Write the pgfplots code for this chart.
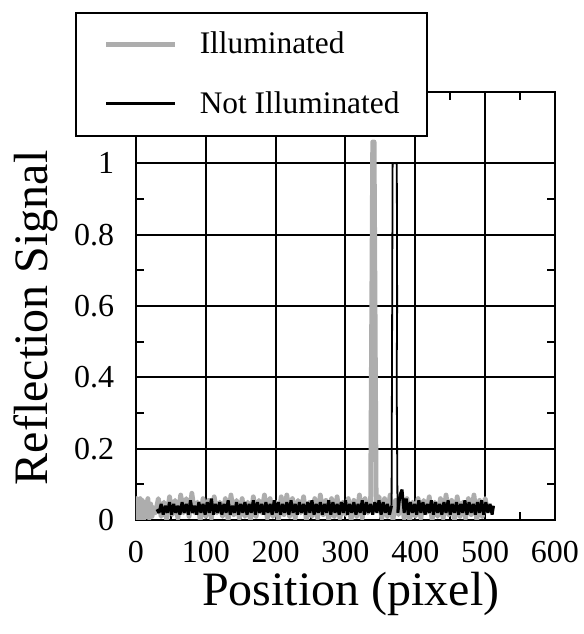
\documentclass[border=0pt]{standalone}
\usepackage{pgfplots}
\pgfplotsset{compat=1.18}
\usepackage{fontspec}
\setmainfont{Liberation Serif}
\definecolor{illum}{rgb}{0.68,0.68,0.68}
\begin{document}
\begin{tikzpicture}
\begin{axis}[
  scale only axis,
  width=209.5pt, height=214pt,
  xmin=0, xmax=600, ymin=0, ymax=1.2,
  xtick={0,100,...,600},
  ytick={0,0.2,0.4,0.6,0.8,1},
  extra y ticks={1.2}, extra y tick labels={},
  minor x tick num=1, minor y tick num=1,
  tick align=inside,
  major tick length=0pt, minor tick length=4pt,
  grid=major,
  major grid style={black, line width=1pt},
  axis line style={black, line width=1.2pt},
  every tick/.style={black, line width=1pt},
  /pgf/number format/assume math mode=true,
  tick label style={font=\fontsize{16}{18}\selectfont},
  xticklabel style={yshift=-7pt},
  yticklabel style={xshift=-7.4pt},
  xlabel={Position (pixel)},
  ylabel={Reflection Signal},
  label style={font=\fontsize{24}{28}\selectfont},
  xlabel style={at={(rel axis cs:0.513,-0.1729)}, anchor=center},
  ylabel style={at={(rel axis cs:-0.2387,0.472)}, anchor=center},
  legend image code/.code={\draw[#1] (0pt,0pt) -- (34.5pt,0pt);},
  legend cell align=left,
  legend style={at={(rel axis cs:-0.1456,1.1869)}, anchor=north west,
    draw=black, line width=1pt, fill=white,
    font=\fontsize{15.7}{18}\selectfont,
    nodes={inner sep=0pt},
    row sep=17.3pt, column sep=11pt,
    inner xsep=14pt, inner ysep=9.6pt},
]
\addplot[illum, line width=2.4pt, line join=round] coordinates {
(0,0.0) (1,0.06) (2,0.01) (3,0.05) (5,0.0) (6,0.06) (8,0.02) (9,0.055) (11,0.0) (13,0.05) (15,0.01) (17,0.06) (19,0.005) (21,0.045) (23,0.01) (25,0.035)
(28,0.02) (32,0.06) (36,0.01) (40,0.05) (44,0.00) (48,0.065) (52,0.015) (56,0.055) (60,0.005) (64,0.07) (68,0.02) (72,0.06) (76,0.01) (80,0.075) (84,0.02) (88,0.05) (92,0.0) (96,0.06) (100,0.01) (104,0.055) (108,0.005) (112,0.065) (116,0.02) (120,0.05) (124,0.01) (128,0.06) (132,0.0) (136,0.07) (140,0.015) (144,0.055) (148,0.005) (152,0.06) (156,0.01) (160,0.05) (164,0.0) (168,0.065) (172,0.01) (176,0.055) (180,0.02) (184,0.07) (188,0.005) (192,0.06) (196,0.01) (200,0.05) (204,0.0) (208,0.065) (212,0.015) (216,0.07) (220,0.01) (224,0.06) (228,0.005) (232,0.055) (236,0.02) (240,0.065) (244,0.0) (248,0.05) (252,0.01) (256,0.06) (260,0.005) (264,0.07) (268,0.015) (272,0.055) (276,0.0) (280,0.06) (284,0.01) (288,0.065) (292,0.005) (296,0.05) (300,0.015) (304,0.06) (308,0.0) (312,0.055) (316,0.01) (320,0.07) (324,0.005) (328,0.06) (332,0.02) (336,0.05) (339,1.06) (341,1.06) (344,0.04) (348,0.065) (352,0.005) (356,0.06) (360,0.01) (364,0.07) (368,0.0) (372,0.055) (376,0.015) (380,0.065) (384,0.005) (388,0.06) (392,0.0) (396,0.05) (400,0.01) (404,0.06) (408,0.005) (412,0.055) (416,0.02) (420,0.065) (424,0.0) (428,0.05) (432,0.01) (436,0.06) (440,0.005) (444,0.07) (448,0.015) (452,0.055) (456,0.0) (460,0.065) (464,0.01) (468,0.05) (472,0.005) (476,0.06) (480,0.015) (484,0.07) (488,0.0) (492,0.055) (496,0.01) (500,0.06) (504,0.02)
};
\addlegendentry{Illuminated}
\addplot[black, line width=1.5pt, line join=bevel] coordinates {
(30,0.03) (33,0.02) (36,0.045) (39,0.015) (42,0.04) (45,0.02) (48,0.05) (51,0.015) (54,0.045) (57,0.02) (60,0.04) (63,0.015) (66,0.05) (69,0.02) (72,0.045) (75,0.015) (78,0.055) (81,0.02) (84,0.04) (87,0.015) (90,0.05) (93,0.02) (96,0.045) (99,0.015) (102,0.05) (105,0.02) (108,0.06) (111,0.015) (114,0.045) (117,0.02) (120,0.05) (123,0.015) (126,0.045) (129,0.02) (132,0.055) (135,0.015) (138,0.04) (141,0.02) (144,0.05) (147,0.015) (150,0.045) (153,0.02) (156,0.05) (159,0.015) (162,0.045) (165,0.02) (168,0.055) (171,0.015) (174,0.05) (177,0.02) (180,0.045) (183,0.015) (186,0.05) (189,0.02) (192,0.045) (195,0.015) (198,0.055) (201,0.02) (204,0.05) (207,0.015) (210,0.045) (213,0.02) (216,0.05) (219,0.015) (222,0.055) (225,0.02) (228,0.045) (231,0.015) (234,0.05) (237,0.02) (240,0.045) (243,0.015) (246,0.05) (249,0.02) (252,0.055) (255,0.015) (258,0.045) (261,0.02) (264,0.05) (267,0.015) (270,0.045) (273,0.02) (276,0.055) (279,0.015) (282,0.05) (285,0.02) (288,0.045) (291,0.015) (294,0.05) (297,0.02) (300,0.055) (303,0.015) (306,0.045) (309,0.02) (312,0.05) (315,0.015) (318,0.045) (321,0.02) (324,0.055) (327,0.015) (330,0.05) (333,0.02) (336,0.045) (339,0.015) (342,0.05) (345,0.02) (348,0.055) (351,0.015) (354,0.05) (357,0.02) (360,0.045) (363,0.015) (366,0.04)
};
\addlegendentry{Not Illuminated}
\addplot[black, line width=0.9pt, forget plot] coordinates {
(366,0.04) (367.5,1.0) (373.5,1.0) (374,0.6) (373.3,0.4) (374.5,0.03) (375,0.02)
};
\addplot[black, line width=1.5pt, line join=bevel, forget plot] coordinates {
(375,0.02) (378,0.07) (381,0.085) (384,0.02) (387,0.06) (390,0.015) (393,0.05) (396,0.02) (399,0.045) (402,0.015) (405,0.055) (408,0.02) (411,0.05) (414,0.015) (417,0.045) (420,0.02) (423,0.055) (426,0.015) (429,0.05) (432,0.02) (435,0.045) (438,0.015) (441,0.05) (444,0.02) (447,0.055) (450,0.015) (453,0.045) (456,0.02) (459,0.05) (462,0.015) (465,0.045) (468,0.02) (471,0.055) (474,0.015) (477,0.05) (480,0.02) (483,0.045) (486,0.015) (489,0.05) (492,0.02) (495,0.055) (498,0.015) (501,0.05) (504,0.02) (507,0.045) (510,0.015) (512,0.04)
};
\coordinate (bbbl) at (rel axis cs:-0.3246,-0.2664);
\coordinate (bbtr) at (rel axis cs:1.0692,1.2150);
\end{axis}
\pgfresetboundingbox
\path (bbbl) rectangle (bbtr);
\end{tikzpicture}
\end{document}
